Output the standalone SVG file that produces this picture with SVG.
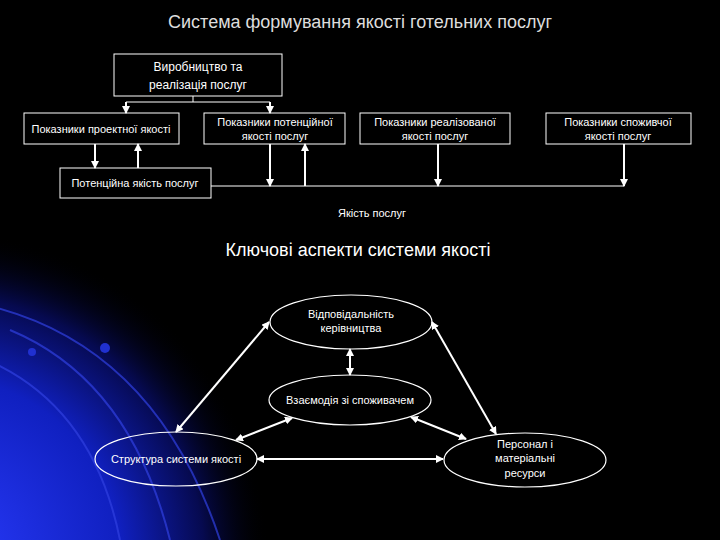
<svg xmlns="http://www.w3.org/2000/svg" width="720" height="540" viewBox="0 0 720 540">
<defs>
<radialGradient id="glow" cx="-60" cy="560" r="330" gradientUnits="userSpaceOnUse">
<stop offset="0" stop-color="#2a3cff"/><stop offset="0.55" stop-color="#1020c0"/><stop offset="0.8" stop-color="#060a50"/><stop offset="1" stop-color="#000" stop-opacity="0"/>
</radialGradient>
<marker id="ah" markerWidth="8" markerHeight="8" refX="7" refY="4" orient="auto-start-reverse" markerUnits="userSpaceOnUse"><path d="M0,0 L8,4 L0,8 z" fill="#fff"/></marker>
<style>
text{font-family:"Liberation Sans",Arial,sans-serif;fill:#fff;text-anchor:middle}
.s{font-size:11px}
.m{font-size:12px}
.b{fill:none;stroke:#fff;stroke-width:1}
.c{fill:none;stroke:#fff;stroke-width:1.2}
.a{fill:none;stroke:#fff;stroke-width:2;marker-end:url(#ah)}
.d{fill:none;stroke:#fff;stroke-width:2;marker-start:url(#ah);marker-end:url(#ah)}
</style>
</defs>
<rect width="720" height="540" fill="#000"/>
<rect width="720" height="540" fill="url(#glow)"/>
<g fill="none" stroke="#3040e0" stroke-width="2" opacity="0.7">
<path d="M-40,300 Q150,330 220,540"/><path d="M10,330 Q130,380 170,540"/><path d="M-40,350 Q90,390 120,540"/>
</g>
<circle cx="105" cy="348" r="5" fill="#2030d0"/><circle cx="32" cy="352" r="4" fill="#2030d0"/>
<text x="360" y="28" font-size="18" style="fill:#ddd">Система формування якості готельних послуг</text>
<g id="n-prod"><rect class="b" x="114" y="54" width="168" height="42"/><text class="m" x="198" y="71">Виробництво та</text><text class="m" x="198" y="89">реалізація послуг</text></g>
<g id="n-proj"><rect class="b" x="24" y="113" width="155" height="31"/><text class="s" x="101" y="133">Показники проектної якості</text></g>
<g id="n-pot"><rect class="b" x="204" y="113" width="141" height="31"/><text class="s" x="275" y="126">Показники потенційної</text><text class="s" x="275" y="140">якості послуг</text></g>
<g id="n-real"><rect class="b" x="360" y="113" width="150" height="31"/><text class="s" x="435" y="126">Показники реалізованої</text><text class="s" x="435" y="140">якості послуг</text></g>
<g id="n-cons"><rect class="b" x="546" y="113" width="145" height="31"/><text class="s" x="618" y="126">Показники споживчої</text><text class="s" x="618" y="140">якості послуг</text></g>
<g id="n-potq"><rect class="b" x="60" y="168" width="151" height="30"/><text class="s" x="135" y="187">Потенційна  якість послуг</text></g>
<text class="s" x="372" y="217">Якість  послуг</text>
<text x="358" y="256" font-size="18">Ключові аспекти системи якості</text>
<g id="e-resp"><ellipse class="c" cx="351" cy="322" rx="81" ry="27"/><text class="s" x="351" y="318">Відповідальність</text><text class="s" x="351" y="332">керівництва</text></g>
<g id="e-inter"><ellipse class="c" cx="350" cy="400" rx="81" ry="25"/><text class="s" x="350" y="404">Взаємодія зі споживачем</text></g>
<g id="e-struct"><ellipse class="c" cx="176" cy="459" rx="81" ry="27"/><text class="s" x="176" y="463">Структура системи якості</text></g>
<g id="e-pers"><ellipse class="c" cx="525" cy="460" rx="81" ry="27"/><text class="s" x="525" y="448">Персонал і</text><text class="s" x="525" y="462">матеріальні</text><text class="s" x="525" y="477">ресурси</text></g>
<g id="connectors">
<path class="b" d="M193,96 V102 M126,102 H270"/>
<path class="a" d="M126,102 V113"/><path class="a" d="M270,102 V113"/>
<path class="a" d="M95,144 V168"/><path class="a" d="M138,168 V144"/>
<path class="b" d="M211,186 H624"/>
<path class="a" d="M270,144 V186"/><path class="a" d="M305,186 V144"/>
<path class="a" d="M438,144 V186"/><path class="a" d="M624,144 V186"/>
<path class="d" d="M350,349 V375"/>
<path class="d" d="M269,322 L176,432"/>
<path class="d" d="M432,322 L496,434"/>
<path class="d" d="M292,418 L236,440"/>
<path class="d" d="M411,417 L466,439"/>
<path class="d" d="M257,459 H443"/>
</g>
</svg>
